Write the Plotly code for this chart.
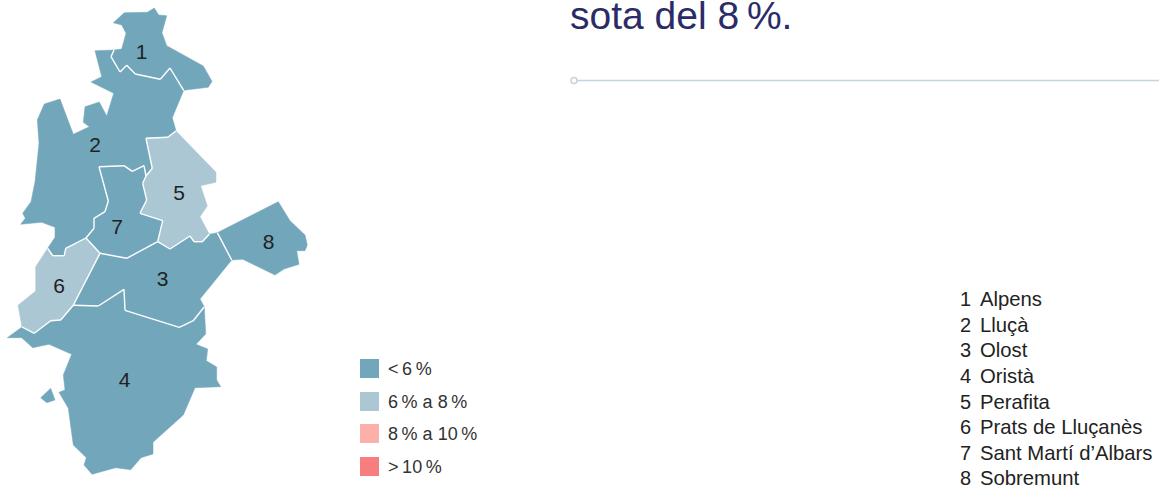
import plotly.graph_objects as go

W, H = 1159, 488

# Municipality outlines, in map units
alpens = [(113.3,22.7),(124.3,12.7),(147.3,12.3),(154.3,8),(158.7,15),(166.7,15.7),(162,32.7),(166.7,45.7),(203.3,66),(212,81.3),(208.3,87.3),(183.7,90.3),(170,68),(160.3,79.3),(135.3,74),(126.7,65.3),(120,72),(111,56.7),(114,50),(121.7,49),(126,33.3),(121.7,25)]
lluca = [(95,50.7),(114,50),(111,56.7),(120,72),(126.7,65.3),(135.3,74),(160.3,79.3),(170,68),(183.7,90.3),(172.3,117.7),(176,131),(167.7,137.3),(146,138.3),(152.3,168.3),(146,176),(144,165.7),(132.3,171.3),(124,165.7),(99,166.7),(108.3,201),(105,211.7),(94,218.3),(94,228.3),(86,238),(65.7,248.3),(64.3,255.7),(52.7,255.7),(47.7,248.3),(55,237.3),(55,227.3),(41.7,222.3),(20.7,224.3),(25.3,218.3),(22.7,213.3),(31,201.7),(35,181.7),(39,143.3),(37.3,120),(44.3,104),(60,99),(73.3,134.3),(89.3,126.7),(83.3,122.3),(85,106.7),(99.3,102),(106.7,116),(113.7,93.3),(91,82),(101.7,76.7)]
olost = [(100,253.3),(126.7,258.3),(157.7,241.7),(170,249),(190,236),(194,241.7),(202.3,241.7),(209.3,234.3),(217.3,232.7),(231.7,260),(200,299),(204.3,306.7),(193.3,320.7),(179.3,327.3),(125,310.3),(124,289.3),(98.3,306),(73.3,305.3)]
orista = [(73.3,305.3),(98.3,306),(124,289.3),(125,310.3),(179.3,327.3),(193.3,320.7),(204.3,306.7),(205.7,334),(196,344.3),(207.7,349),(206.3,360.7),(216.7,367),(216.7,380),(220.7,386.7),(195,387.7),(183.3,415),(153,442.3),(153,454),(141,457.7),(130.7,469.7),(115.7,467.7),(92,474.3),(84,465),(86.3,457.7),(73.3,445),(68.3,408.3),(59,392.3),(65,390),(63.3,375),(71.7,354.3),(49,344.3),(32.7,347.7),(21.7,337.7),(7.3,337.7),(22,327),(34.3,333.3),(50.7,320.7),(60.7,320)]
orista_enclave = [(50.7,388.3),(55,400),(46.7,402.7),(40.7,397.7)]
perafita = [(146,138.3),(167.7,137.3),(176,131),(216,172.3),(216,182.3),(200.7,185.7),(207.3,206),(200,216.7),(209.3,234.3),(202.3,241.7),(194,241.7),(190,236),(170,249),(157.7,241.7),(162.7,220.7),(140,213.3),(146.7,200),(142.7,183.3),(146,176),(152.3,168.3)]
prats = [(47.7,248.3),(52.7,255.7),(64.3,255.7),(65.7,248.3),(86,238),(100,253.3),(73.3,305.3),(60.7,320),(50.7,320.7),(34.3,333.3),(22,327),(18,305.3),(35.7,291),(35.7,266.7)]
sant_marti = [(99,166.7),(124,165.7),(132.3,171.3),(144,165.7),(146,176),(142.7,183.3),(146.7,200),(140,213.3),(162.7,220.7),(157.7,241.7),(126.7,258.3),(100,253.3),(86,238),(94,228.3),(94,218.3),(105,211.7),(108.3,201)]
sobremunt = [(217.3,232.7),(278.3,201.7),(290,220.7),(305,235),(307.3,245),(305,250.7),(296.7,250.7),(299,264.3),(284,269),(275,275),(242.7,259.3),(231.7,260)]

BAND_DARK = "#72a7bb"
BAND_LIGHT = "#acc7d4"
BAND_PINK = "#fbb0a9"
BAND_RED = "#f67e7e"

regions = [
    (alpens, BAND_DARK), (lluca, BAND_DARK), (olost, BAND_DARK), (orista, BAND_DARK),
    (orista_enclave, BAND_DARK), (perafita, BAND_LIGHT), (prats, BAND_LIGHT),
    (sant_marti, BAND_DARK), (sobremunt, BAND_DARK),
]

label_numbers = ["1", "2", "3", "4", "5", "6", "7", "8"]
label_x = [141.5, 95, 162.5, 124.5, 179, 59, 117, 268.5]
label_y = [54, 146.5, 280.5, 382, 195, 287.5, 229, 243.5]

legend_labels = ["<\u20096\u2009%", "6\u2009% a 8\u2009%", "8\u2009% a 10\u2009%", ">\u200910\u2009%"]
legend_colors = [BAND_DARK, BAND_LIGHT, BAND_PINK, BAND_RED]
legend_y = [368.5, 401.5, 433.5, 466.5]
legend_text_y = [370.5, 403.5, 435.5, 468.5]

names = ["Alpens", "Lluçà", "Olost", "Oristà", "Perafita", "Prats de Lluçanès", "Sant Martí d’Albars", "Sobremunt"]
names_y = [301, 326.5, 352, 378, 403.5, 429, 454.5, 480]

TEXT = "Liberation Sans"
fig = go.Figure()

for poly, colour in regions:
    xs = [p[0] for p in poly] + [poly[0][0]]
    ys = [p[1] for p in poly] + [poly[0][1]]
    fig.add_trace(go.Scatter(x=xs, y=ys, mode="lines", fill="toself", fillcolor=colour,
                             line=dict(color=colour, width=0.5), hoverinfo="skip"))

# White borders only on the edges two municipalities share
edge_count = {}
for poly, _ in regions:
    for a, b in zip(poly, poly[1:] + poly[:1]):
        key = tuple(sorted((a, b)))
        edge_count[key] = edge_count.get(key, 0) + 1
border_x, border_y = [], []
for (a, b), n in edge_count.items():
    if n > 1:
        border_x += [a[0], b[0], None]
        border_y += [a[1], b[1], None]
fig.add_trace(go.Scatter(x=border_x, y=border_y, mode="lines",
                         line=dict(color="white", width=1.4), hoverinfo="skip"))

fig.add_trace(go.Scatter(x=label_x, y=label_y, mode="text", text=label_numbers,
                         textposition="middle center",
                         textfont=dict(family=TEXT, size=21, color="#222222")))

fig.add_trace(go.Scatter(x=[369.5] * 4, y=legend_y, mode="markers",
                         marker=dict(symbol="square", size=19, color=legend_colors, line=dict(width=0))))
fig.add_trace(go.Scatter(x=[388] * 4, y=legend_text_y, mode="text", text=legend_labels,
                         textposition="middle right",
                         textfont=dict(family=TEXT, size=18, color="#333333")))

fig.add_trace(go.Scatter(x=[960] * 8, y=names_y, mode="text", text=label_numbers,
                         textposition="middle right",
                         textfont=dict(family=TEXT, size=20, color="#222222")))
fig.add_trace(go.Scatter(x=[980] * 8, y=names_y, mode="text", text=names,
                         textposition="middle right",
                         textfont=dict(family=TEXT, size=20.3, color="#222222")))

fig.add_trace(go.Scatter(x=[574, 1159], y=[80.5, 80.5], mode="lines",
                         line=dict(color="#c5d3dd", width=1.5)))
fig.add_trace(go.Scatter(x=[574], y=[80.5], mode="markers",
                         marker=dict(symbol="circle", size=6, color="white",
                                     line=dict(color="#c5d3dd", width=1.5))))
fig.add_trace(go.Scatter(x=[570], y=[19], mode="text", text=["sota del 8\u2009%."],
                         textposition="middle right", cliponaxis=False,
                         textfont=dict(family=TEXT, size=39, color="#2a2c68")))

fig.update_layout(
    width=W, height=H, margin=dict(l=0, r=0, t=0, b=0),
    paper_bgcolor="white", plot_bgcolor="white", showlegend=False,
    xaxis=dict(range=[0, W], visible=False, fixedrange=True),
    yaxis=dict(range=[H, 0], visible=False, fixedrange=True),
)
fig.write_html("out.html", config={"displayModeBar": False},
               post_script="document.body.style.margin='0';document.body.style.overflow='hidden';")
